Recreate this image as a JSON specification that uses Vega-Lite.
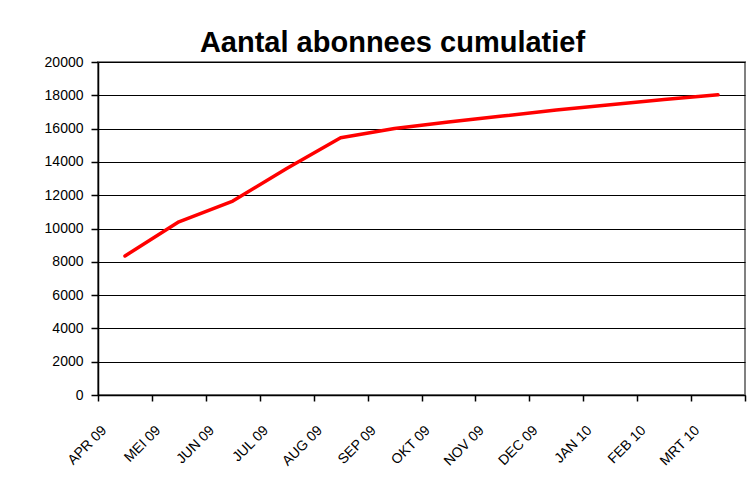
{
  "$schema": "https://vega.github.io/schema/vega-lite/v6.json",
  "width": 647,
  "height": 333,
  "autosize": {"type": "none"},
  "padding": {"left": 98, "top": 62, "right": 4, "bottom": 93},
  "background": "white",
  "title": {
    "text": "Aantal abonnees cumulatief",
    "font": "Liberation Sans",
    "fontSize": 29,
    "fontWeight": "bold",
    "color": "black",
    "anchor": "middle",
    "dx": -29,
    "offset": -3
  },
  "config": {
    "view": {"stroke": "#808080", "strokeWidth": 2},
    "axis": {
      "labelFont": "Liberation Sans",
      "labelColor": "black",
      "domainColor": "black",
      "tickColor": "black",
      "gridColor": "black",
      "gridOpacity": 1,
      "domainWidth": 1.5,
      "tickWidth": 1.5,
      "gridWidth": 1.2
    }
  },
  "data": {
    "values": [
      {"maand": "APR 09", "abonnees": 8350},
      {"maand": "MEI 09", "abonnees": 10400},
      {"maand": "JUN 09", "abonnees": 11650},
      {"maand": "JUL 09", "abonnees": 13600},
      {"maand": "AUG 09", "abonnees": 15450},
      {"maand": "SEP 09", "abonnees": 16000},
      {"maand": "OKT 09", "abonnees": 16400},
      {"maand": "NOV 09", "abonnees": 16750},
      {"maand": "DEC 09", "abonnees": 17120},
      {"maand": "JAN 10", "abonnees": 17430},
      {"maand": "FEB 10", "abonnees": 17750},
      {"maand": "MRT 10", "abonnees": 18030}
    ]
  },
  "mark": {"type": "line", "color": "#FF0000", "strokeWidth": 3.5, "strokeCap": "round", "strokeJoin": "round"},
  "encoding": {
    "x": {
      "field": "maand",
      "type": "ordinal",
      "sort": null,
      "scale": {"type": "band", "paddingInner": 0, "paddingOuter": 0},
      "axis": {
        "title": null,
        "labelAngle": -45,
        "labelAlign": "right",
        "labelBaseline": "middle",
        "labelFontSize": 14,
        "labelOffset": -21,
        "labelPadding": 27,
        "tickBand": "extent",
        "tickSize": 6,
        "grid": false
      }
    },
    "y": {
      "field": "abonnees",
      "type": "quantitative",
      "scale": {"domain": [0, 20000], "nice": false},
      "axis": {
        "title": null,
        "format": "d",
        "values": [0, 2000, 4000, 6000, 8000, 10000, 12000, 14000, 16000, 18000, 20000],
        "labelFontSize": 14,
        "tickSize": 7,
        "labelPadding": 8,
        "grid": true
      }
    }
  }
}
